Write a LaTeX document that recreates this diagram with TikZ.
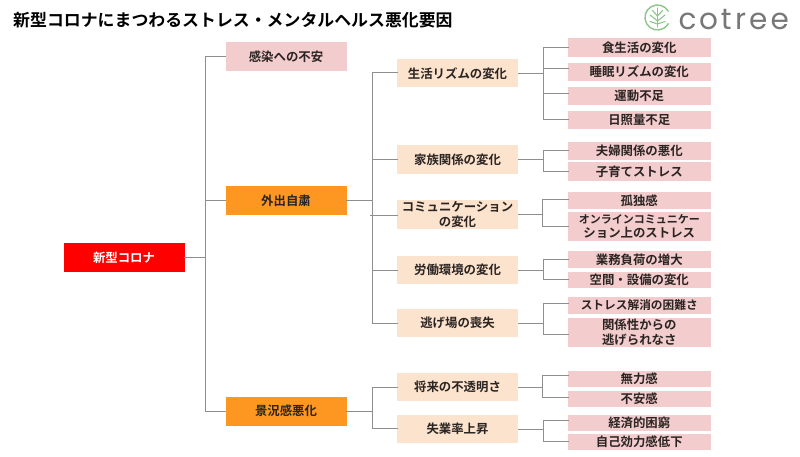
\documentclass[tikz,border=0pt]{standalone}
\usepackage{fontspec}
\setmainfont{Noto Sans CJK JP}[BoldFont={Noto Sans CJK JP Bold}]
\newfontfamily\logofont{Poppins}
\usetikzlibrary{calc}
\definecolor{cred}{HTML}{FE0000}
\definecolor{corange}{HTML}{FE9722}
\definecolor{cpeach}{HTML}{FCE3CD}
\definecolor{cpink}{HTML}{F3CCCD}
\definecolor{cline}{HTML}{8E8E8E}
\definecolor{ctext}{HTML}{2A2422}
\definecolor{cgreen}{HTML}{8CC68A}
\definecolor{clogo}{HTML}{777777}
\newcommand{\bx}[7]{\node[#1,minimum width={(#4-#3)*1pt},minimum height={(#6-#5)*1pt}] (#2) at ({(#3+#4)/2},{(#5+#6)/2}) {#7};}
\newcommand{\lvltwo}[5]{\bx{peachbox}{#1}{397}{518}{#2}{#3}{#4}}
\newcommand{\lvlthree}[4]{\bx{pinkbox}{#1}{568}{710.5}{#2}{#3}{#4}}
\newcommand{\twig}[3]{\draw[conn] (#2,#3) -- (#1.west |- #2,#3);}
\tikzset{
 boxbase/.style={inner sep=0pt,outer sep=0pt,align=center,font=\bfseries\fontsize{12.4}{14.5}\selectfont,text=ctext},
 redbox/.style={boxbase,fill=cred,text=white},
 orangebox/.style={boxbase,fill=corange},
 peachbox/.style={boxbase,fill=cpeach},
 pinkbox/.style={boxbase,fill=cpink},
 conn/.style={draw=cline,line width=1pt,line cap=rect},
 leaf/.style={draw=cgreen,line width=1.1pt,line cap=round}
}
\begin{document}
\begin{tikzpicture}[x=1pt,y=-1pt]
\useasboundingbox (0,0) rectangle (800,457);
\fill[white] (0,0) rectangle (800,457);
\node[anchor=west,inner sep=0pt,text=black,font=\bfseries\fontsize{16.9}{20}\selectfont] (title) at (13,20) {新型コロナにまつわるストレス・メンタルヘルス悪化要因};
% logo
\draw[leaf,line width=1.4pt] (668.3,11.2) arc[start angle=30,end angle=330,radius=12.5pt];
\draw[leaf] (657.5,27) -- (657.5,8);
\draw[leaf] (657.5,24) -- (650,21.5) (657.5,24) -- (665,21.5);
\draw[leaf] (657.5,21) -- (650,15) (657.5,21) -- (665,15);
\draw[leaf] (657.5,16) -- (652.5,10.5) (657.5,16) -- (662.5,10.5);
\node[anchor=base west,inner sep=0pt,text=clogo,font=\logofont\fontsize{29.5}{30}\selectfont] (logo) at (678.5,30) {c\kern2.5pt o\kern3pt t\kern3.5pt r\kern3pt e\kern3pt e};
% level 0 and 1
\bx{redbox}{root}{63.5}{184.5}{243}{272}{新型コロナ}
\bx{pinkbox}{a1}{225.5}{346.5}{42}{71}{感染への不安}
\bx{orangebox}{a2}{225.5}{346.5}{186}{215}{外出自粛}
\bx{orangebox}{a3}{225.5}{346.5}{396.5}{425.5}{景況感悪化}
% level 2
\lvltwo{b1}{59}{87.5}{生活リズムの変化}{}
\lvltwo{b2}{145.5}{174}{家族関係の変化}{}
\lvltwo{b3}{200}{229}{コミュニケーション\\の変化}{}
\lvltwo{b4}{256}{284}{労働環境の変化}{}
\lvltwo{b5}{309}{337}{逃げ場の喪失}{}
\lvltwo{b6}{373}{401}{将来の不透明さ}{}
\lvltwo{b7}{415}{443}{失業率上昇}{}
% level 3
\lvlthree{c1}{38.5}{57}{食生活の変化}
\lvlthree{c2}{63}{81}{睡眠リズムの変化}
\lvlthree{c3}{87}{105}{運動不足}
\lvlthree{c4}{111}{129}{日照量不足}
\lvlthree{c5}{142}{160.5}{夫婦関係の悪化}
\lvlthree{c6}{162.5}{181}{子育てストレス}
\lvlthree{c7}{192.5}{209}{孤独感}
\lvlthree{c8}{212}{241}{\fontsize{11}{14}\selectfont オンラインコミュニケー\\ション上のストレス}
\lvlthree{c9}{251}{268}{業務負荷の増大}
\lvlthree{c10}{271.5}{287.5}{空間・設備の変化}
\lvlthree{c11}{297}{313.5}{\fontsize{11.7}{14}\selectfont ストレス解消の困難さ}
\lvlthree{c12}{318}{347}{関係性からの\\逃げられなさ}
\lvlthree{c13}{371}{387}{無力感}
\lvlthree{c14}{390.5}{406.5}{不安感}
\lvlthree{c15}{415}{431}{経済的困窮}
\lvlthree{c16}{433.5}{449.5}{自己効力感低下}
% root connectors
\draw[conn] (root.east) -- (root.east -| 205,0);
\draw[conn] (205,56.5) -- (205,411);
\twig{a1}{205}{56.5}
\twig{a2}{205}{200.5}
\twig{a3}{205}{411}
% a2 connectors
\draw[conn] (a2.east) -- (a2.east -| 372,0);
\draw[conn] (372,73) -- (372,323);
\twig{b1}{372}{73}
\twig{b2}{372}{160}
\twig{b3}{370.5}{215}
\twig{b4}{372}{270}
\twig{b5}{372}{323}
% a3 connectors
\draw[conn] (a3.east) -- (a3.east -| 372,0);
\draw[conn] (372,387) -- (372,428.5);
\twig{b6}{372}{387}
\twig{b7}{372}{428.5}
% b1
\draw[conn] (b1.east) -- (b1.east -| 543,0);
\draw[conn] (543,48) -- (543,119.5);
\twig{c1}{543}{48}
\twig{c2}{543}{68.5}
\twig{c3}{543}{94}
\twig{c4}{543}{119.5}
% b2
\draw[conn] (b2.east) -- (b2.east -| 543,0);
\draw[conn] (543,151) -- (543,171.5);
\twig{c5}{543}{151}
\twig{c6}{543}{171.5}
% b3
\draw[conn] (b3.east) -- (b3.east -| 542,0);
\draw[conn] (542,200) -- (542,226);
\twig{c7}{542}{200}
\twig{c8}{542}{226}
% b4
\draw[conn] (b4.east) -- (b4.east -| 543.5,0);
\draw[conn] (543.5,259) -- (543.5,279);
\twig{c9}{543.5}{259}
\twig{c10}{543.5}{279}
% b5
\draw[conn] (b5.east) -- (b5.east -| 543.5,0);
\draw[conn] (543.5,303) -- (543.5,334);
\twig{c11}{543.5}{303}
\twig{c12}{543.5}{334}
% b6
\draw[conn] (b6.east) -- (b6.east -| 542.5,0);
\draw[conn] (542.5,375) -- (542.5,397.5);
\twig{c13}{542.5}{375}
\twig{c14}{542.5}{397.5}
% b7
\draw[conn] (b7.east) -- (b7.east -| 543,0);
\draw[conn] (543,420.5) -- (543,441.5);
\twig{c15}{543}{420.5}
\twig{c16}{543}{441.5}
\end{tikzpicture}
\end{document}
